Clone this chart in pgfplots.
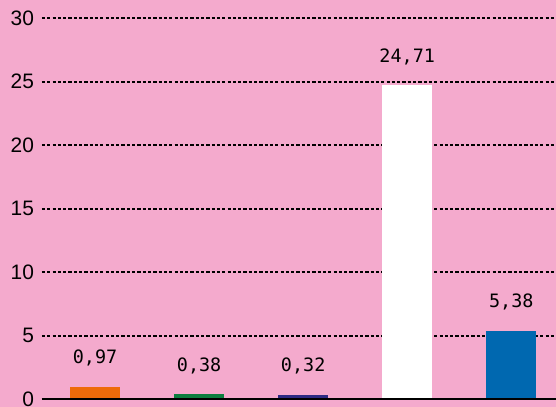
\documentclass[border=0pt]{standalone}
\usepackage{pgfplots}
\pgfplotsset{compat=1.18}
\usepackage{fontspec}
\setmainfont{Liberation Sans}
\newfontfamily\monofont{DejaVu Sans Mono}
\usetikzlibrary{backgrounds}
\definecolor{bgpink}{HTML}{F4AACD}
\definecolor{corange}{HTML}{EE6A0A}
\definecolor{cgreen}{HTML}{0B7F3F}
\definecolor{cpurple}{HTML}{2D2A82}
\definecolor{cblue}{HTML}{0068B0}
\begin{document}
\begin{tikzpicture}
\begin{axis}[
  scale only axis,
  width=514bp, height=407bp,
  xmin=-0.51, xmax=4.43,
  ymin=-0.63, ymax=31.42,
  axis line style={draw=none},
  major tick length=0pt,
  xtick=\empty,
  ytick={0,5,10,15,20,25,30},
  ymajorgrids,
  grid style={black, line width=2bp, dash pattern=on 3.2bp off 2.1bp},
  yticklabel style={font=\fontsize{21}{23}\selectfont, anchor=east, xshift=-4.5bp},
  /pgf/number format/assume math mode=true,
  ybar, bar width=50bp,
  nodes near coords,
  nodes near coords style={font=\monofont\fontsize{18.5}{21}\selectfont, anchor=south, yshift=17bp,
    /pgf/number format/.cd, fixed, fixed zerofill, precision=2, use comma, assume math mode=true},
  clip=false,
]
\addplot[fill=corange, draw=none, bar shift=0pt] coordinates {(0,0.97)};
\addplot[fill=cgreen, draw=none, bar shift=0pt] coordinates {(1,0.38)};
\addplot[fill=cpurple, draw=none, bar shift=0pt] coordinates {(2,0.32)};
\addplot[fill=white, draw=none, bar shift=0pt] coordinates {(3,24.71)};
\addplot[fill=cblue, draw=none, bar shift=0pt] coordinates {(4,5.38)};
\draw[black, line width=2.2bp] (axis cs:-0.51,0) -- (axis cs:4.43,0);
\end{axis}
\begin{scope}[on background layer]
\fill[bgpink] ([xshift=-42bp]current axis.south west) rectangle (current axis.north east);
\end{scope}
\pgfresetboundingbox
\useasboundingbox ([xshift=-42bp]current axis.south west) rectangle (current axis.north east);
\end{tikzpicture}
\end{document}
